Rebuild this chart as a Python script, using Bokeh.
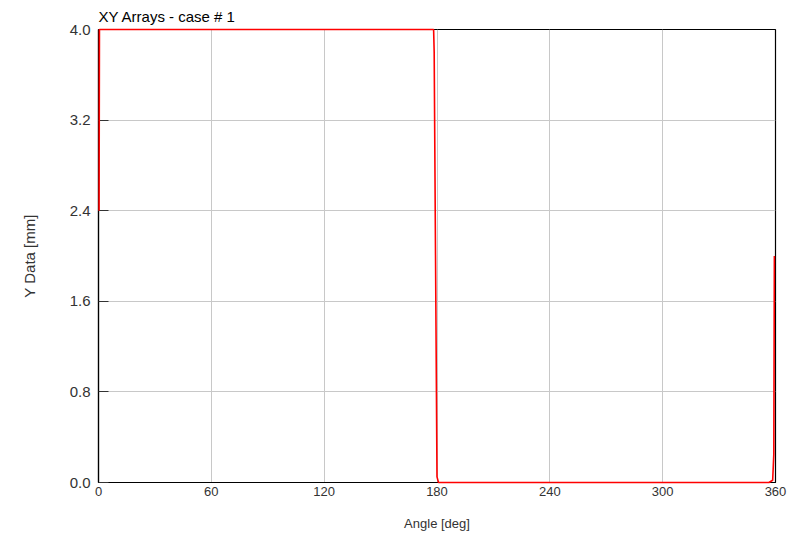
from bokeh.plotting import figure
from bokeh.embed import file_html
from bokeh.resources import INLINE
from bokeh.models import FixedTicker, NumeralTickFormatter, Range1d

# Data
angle_deg = [0.3, 0.5, 178.2, 178.5, 180.0, 180.8, 356.5, 358.5, 359.1, 359.4]
y_mm = [2.4, 4.0, 4.0, 3.8, 0.05, 0.0, 0.0, 0.02, 0.25, 2.0]

x_ticks = [0, 60, 120, 180, 240, 300, 360]
y_ticks = [0.0, 0.8, 1.6, 2.4, 3.2, 4.0]

p = figure(width=802, height=538, output_backend="svg", toolbar_location=None,
           x_range=Range1d(0, 360), y_range=Range1d(0, 4.0),
           min_border_left=98, min_border_right=27, min_border_top=29,
           min_border_bottom=56)

p.title.text = "XY Arrays - case # 1"
p.title.text_font = "Liberation Sans"
p.title.text_font_size = "15px"
p.title.text_font_style = "normal"
p.title.text_color = "#000000"
p.title.align = "left"
p.title.offset = 0
p.title.standoff = 9

r = p.line(angle_deg, y_mm, line_color="red", line_width=1.6)
r.level = "overlay"

p.outline_line_color = "black"
p.outline_line_width = 1.2
p.background_fill_color = "white"
p.border_fill_color = "white"

p.xaxis.ticker = FixedTicker(ticks=x_ticks)
p.yaxis.ticker = FixedTicker(ticks=y_ticks)
p.yaxis.formatter = NumeralTickFormatter(format="0.0")

p.xgrid.grid_line_color = "#c8c8c8"
p.ygrid.grid_line_color = "#c8c8c8"
p.xgrid.grid_line_width = 1
p.ygrid.grid_line_width = 1

for ax in (p.xaxis, p.yaxis):
    ax.axis_line_color = "black"
    ax.axis_line_width = 1.2
    ax.minor_tick_line_color = None
    ax.major_label_text_font = "Liberation Sans"
    ax.major_label_text_color = "#333333"
    ax.axis_label_text_font = "Liberation Sans"
    ax.axis_label_text_font_style = "normal"
    ax.axis_label_text_color = "#333333"

p.xaxis.axis_label = "Angle [deg]"
p.yaxis.axis_label = "Y Data [mm]"
p.xaxis.major_label_text_font_size = "13px"
p.yaxis.major_label_text_font_size = "15px"
p.xaxis.axis_label_text_font_size = "13px"
p.yaxis.axis_label_text_font_size = "15px"

p.xaxis.major_tick_in = 0
p.xaxis.major_tick_out = 0
p.xaxis.major_label_standoff = 4
p.xaxis.axis_label_standoff = 17

p.yaxis.major_tick_in = 10
p.yaxis.major_tick_out = 0
p.yaxis.major_tick_line_color = "#333333"
p.yaxis.major_label_standoff = 8
p.yaxis.axis_label_standoff = 29

open("out.html", "w").write(file_html(p, INLINE))
